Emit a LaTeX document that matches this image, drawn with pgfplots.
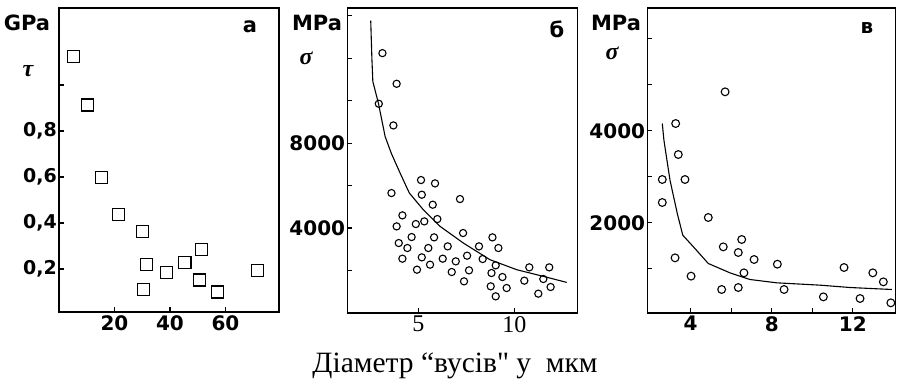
\documentclass[border=0pt]{standalone}
\usepackage{fontspec}
\newfontfamily\capfont{Liberation Serif}
\newfontfamily\dvs{DejaVu Sans}
\usepackage{pgfplots}
\pgfplotsset{compat=1.18}
\pgfplotsset{
  panel/.style={
    scale only axis, anchor=north west,
    xtick pos=bottom, ytick pos=left, tick align=inside,
    major tick length=5pt,
    scaled x ticks=false, scaled y ticks=false,
    axis line style={line width=1.4pt},
    major tick style={line width=1.1pt, black},
    tick label style={font=\dvs\bfseries\fontsize{20}{20}\selectfont},
    yticklabel style={inner sep=2pt},
    xticklabel style={inner sep=3pt},
    /pgf/number format/assume math mode=true,
  }
}
\begin{document}
\begin{tikzpicture}
\useasboundingbox (0pt,0pt) rectangle (903pt,380pt);
% ---------------- panel a
\begin{axis}[panel, at={(59pt,372pt)}, width=220pt, height=304pt,
  xmin=0, xmax=79.3, ymin=0.013, ymax=1.335,
  xtick={20,40,60}, xticklabels={20,40,60},
  ytick={0.2,0.4,0.6,0.8,1.0}, yticklabels={{0,2},{0,4},{0,6},{0,8},{}},
  yticklabel style={font=\dvs\bfseries\fontsize{19}{19}\selectfont}]
\addplot[only marks, mark=square, mark size=6pt, mark options={line width=1.1pt}] coordinates {
(5.2,1.126) (10.3,0.913) (15.2,0.597) (21.6,0.438) (30.2,0.362) (31.7,0.22)
(30.5,0.11) (38.7,0.184) (45.4,0.227) (51.5,0.283) (50.7,0.152) (57.2,0.10) (71.4,0.193)};
\end{axis}
% ---------------- panel b
\begin{axis}[panel, at={(347.3pt,372pt)}, width=230pt, height=305pt,
  xmin=1.3, xmax=13.28, ymin=0, ymax=14360,
  xtick={5,10}, xticklabels={5,10},
  xticklabel style={font=\capfont\fontsize{24}{24}\selectfont},
  ytick={2000,4000,6000,8000,10000,12000,14000},
  yticklabels={{},4000,{},8000,{},{},{}}]
\addplot[only marks, mark=o, mark size=3.6pt, mark options={line width=1.1pt}] coordinates {
(3.13,12235) (3.87,10792) (2.94,9851) (3.70,8831) (3.60,5647) (5.14,6259)
(5.87,6102) (5.18,5569) (7.17,5365) (5.75,5098) (4.17,4596) (5.99,4423)
(5.31,4313) (4.87,4188) (3.87,4078) (4.65,3576) (5.82,3561) (3.98,3294)
(4.43,3059) (5.52,3059) (6.53,3137) (7.33,3765) (8.16,3137) (8.86,3561)
(9.17,3059) (4.17,2557) (5.18,2620) (6.27,2557) (6.95,2431) (7.54,2698)
(8.35,2541) (5.61,2275) (4.93,2039) (6.74,1929) (7.64,2008) (7.38,1490)
(9.03,2243) (8.81,1882) (9.38,1694) (8.77,1255) (9.60,1176) (9.03,784)
(10.78,2149) (11.82,2149) (10.52,1522) (11.51,1600) (11.89,1224) (11.25,910)};
\addplot[black, line width=1.1pt] coordinates {
(2.52,13770) (2.58,12000) (2.63,10900) (2.92,9880) (3.27,8310) (3.60,7500)
(4.05,6590) (4.53,5650) (5.26,4860) (6.13,4080) (7.35,3290) (8.73,2510)
(10.12,2040) (11.51,1725) (12.73,1440)};
\end{axis}
% ---------------- panel c
\begin{axis}[panel, at={(647.3pt,372pt)}, width=248.4pt, height=305pt,
  xmin=1.86, xmax=14.12, ymin=40, ymax=6670,
  xtick={4,6,8,10,12}, xticklabels={4,{},8,{},12},
  ytick={1000,2000,3000,4000,5000,6000},
  yticklabels={{},2000,{},4000,{},{}}]
\addplot[only marks, mark=o, mark size=3.9pt, mark options={line width=1.1pt}] coordinates {
(5.70,4848) (3.26,4159) (3.39,3485) (3.72,2942) (2.60,2942) (2.60,2442)
(4.87,2116) (6.52,1638) (5.61,1478) (6.35,1355) (3.23,1239) (7.13,1203)
(8.28,1101) (11.57,1029) (12.99,913) (6.63,913) (4.02,841) (13.51,717)
(5.53,551) (6.35,594) (8.61,551) (10.55,391) (12.36,355) (13.88,261)};
\addplot[black, line width=1.1pt] coordinates {
(2.60,4159) (2.68,3797) (2.98,2927) (3.34,2203) (3.61,1732) (4.21,1442)
(4.87,1116) (5.94,913) (6.93,768) (8.25,696) (10.39,645) (11.87,594) (13.93,551)};
\end{axis}
% ---------------- labels
\node[font=\dvs\bfseries\fontsize{21}{21}\selectfont] at (27pt,357pt) {GPa};
\node[font=\capfont\bfseries\itshape\fontsize{24}{24}\selectfont] at (28pt,309pt) {τ};
\node[font=\dvs\bfseries\fontsize{21}{21}\selectfont] at (250pt,353pt) {а};
\node[font=\dvs\bfseries\fontsize{21}{21}\selectfont] at (317pt,357pt) {MPa};
\node[font=\capfont\bfseries\itshape\fontsize{24}{24}\selectfont] at (306pt,322pt) {σ};
\node[font=\dvs\bfseries\fontsize{21}{21}\selectfont] at (557pt,351pt) {б};
\node[font=\dvs\bfseries\fontsize{21}{21}\selectfont] at (616pt,357pt) {MPa};
\node[font=\capfont\bfseries\itshape\fontsize{24}{24}\selectfont] at (612pt,327pt) {σ};
\node[font=\dvs\bfseries\fontsize{20}{20}\selectfont] at (867pt,352pt) {в};
\node[anchor=base, font=\capfont\fontsize{29.5}{29.5}\selectfont] at (455pt,7pt) {Діаметр “вусів" у\ \ мкм};
\end{tikzpicture}
\end{document}
